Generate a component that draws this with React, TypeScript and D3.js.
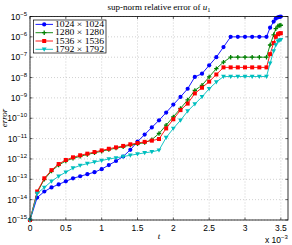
import React from "react";
import * as d3 from "d3";

// time in units of 1e-3
const times = [0, 0.1, 0.2, 0.3, 0.4, 0.5, 0.6, 0.7, 0.8, 0.9, 1.0, 1.1, 1.2, 1.3, 1.4, 1.5, 1.6, 1.7, 1.8, 1.9, 2.0, 2.1, 2.2, 2.3, 2.4, 2.5, 2.6, 2.7, 2.8, 2.9, 3.0, 3.1, 3.2, 3.3, 3.35, 3.4, 3.43, 3.46, 3.48, 3.5];

// log10 of the error
const err1024 = [-15, -13.9, -13.6, -13.4, -13.25, -13.1, -12.95, -12.85, -12.75, -12.65, -12.5, -12.3, -12.1, -11.88, -11.55, -11.15, -10.8, -10.45, -10.1, -9.72, -9.33, -8.95, -8.55, -7.97, -7.81, -7.4, -7.0, -6.5, -6.0, -6.0, -6.0, -6.0, -6.0, -6.0, -5.55, -5.25, -5.1, -5.04, -5.02, -5.0];
const err1280 = [-15, -13.65, -13.0, -12.6, -12.3, -12.1, -11.97, -11.87, -11.78, -11.7, -11.62, -11.54, -11.47, -11.4, -11.32, -11.26, -11.2, -11.05, -10.75, -10.34, -9.93, -9.52, -9.1, -8.63, -8.38, -7.97, -7.56, -7.24, -7.0, -7.0, -7.0, -7.0, -7.0, -7.0, -6.4, -5.9, -5.6, -5.47, -5.44, -5.43];
const err1536 = [-15, -13.6, -12.95, -12.55, -12.25, -12.05, -11.92, -11.82, -11.74, -11.66, -11.58, -11.5, -11.43, -11.36, -11.28, -11.22, -11.16, -11.1, -11.02, -10.5, -10.05, -9.6, -9.28, -8.78, -8.5, -8.2, -7.85, -7.5, -7.5, -7.5, -7.5, -7.5, -7.5, -7.5, -6.85, -6.3, -6.0, -5.87, -5.83, -5.82];
const err1792 = [-15, -13.7, -13.4, -13.1, -12.85, -12.65, -12.45, -12.32, -12.23, -12.15, -12.08, -12.0, -11.95, -11.88, -11.82, -11.76, -11.7, -11.65, -11.57, -10.95, -10.5, -10.1, -9.65, -9.3, -8.95, -8.55, -8.22, -7.95, -7.95, -7.95, -7.95, -7.95, -7.95, -7.95, -7.3, -6.7, -6.4, -6.22, -6.17, -6.15];

const seriesNames = ["1024", "1280", "1536", "1792"];
const xTicks = [0, 0.5, 1, 1.5, 2, 2.5, 3, 3.5];
const xTickLabels = ["0", "0.5", "1", "1.5", "2", "2.5", "3", "3.5"];
const yTickExps = [-15, -14, -13, -12, -11, -10, -9, -8, -7, -6, -5];

const colors = ["#0000ff", "#008000", "#ff0000", "#00bfbf"];
const markers = ["circle", "plus", "square", "tri"];

const W = 292, H = 245;
const L = 30, R = 288, T = 16.5, B = 220;

function Marker({ kind, x, y, color }: { kind: string; x: number; y: number; color: string }) {
  if (kind === "circle") return <circle cx={x} cy={y} r={2.1} fill={color} />;
  if (kind === "square") return <rect x={x - 2} y={y - 2} width={4} height={4} fill={color} />;
  if (kind === "plus")
    return (
      <path d={`M${x - 2.2},${y}H${x + 2.2}M${x},${y - 2.2}V${y + 2.2}`} stroke={color} strokeWidth={1.3} />
    );
  return <path d={`M${x - 2.4},${y - 1.8}L${x + 2.4},${y - 1.8}L${x},${y + 2.4}Z`} fill={color} />;
}

export default function App() {
  const x = d3.scaleLinear().domain([0, 3.6]).range([L, R]);
  const y = d3.scaleLog().domain([1e-15, 1e-5]).range([B, T]);
  const all = [err1024, err1280, err1536, err1792];
  const line = d3
    .line<[number, number]>()
    .x((d) => x(d[0]))
    .y((d) => y(Math.pow(10, d[1])));
  const sans = "Liberation Sans, Arial, sans-serif";
  const serif = "Liberation Serif, Times New Roman, serif";
  const legendY = [24.4, 32.7, 41, 49.3];
  return (
    <svg width={W} height={H} style={{ position: "absolute", left: 0, top: 0, background: "#fff" }}>
      <rect x={0} y={0} width={W} height={H} fill="#fff" />
      {/* grid */}
      {xTicks.map((t) => (
        <line key={"gx" + t} x1={x(t)} x2={x(t)} y1={T} y2={B} stroke="#b0b0b0" strokeWidth={0.6} strokeDasharray="1,2" />
      ))}
      {yTickExps.map((e) => (
        <line key={"gy" + e} x1={L} x2={R} y1={y(Math.pow(10, e))} y2={y(Math.pow(10, e))} stroke="#b0b0b0" strokeWidth={0.6} strokeDasharray="1,2" />
      ))}
      {/* ticks */}
      {xTicks.map((t) => (
        <g key={"tx" + t}>
          <line x1={x(t)} x2={x(t)} y1={B} y2={B - 2.5} stroke="#000" strokeWidth={0.6} />
          <line x1={x(t)} x2={x(t)} y1={T} y2={T + 2.5} stroke="#000" strokeWidth={0.6} />
        </g>
      ))}
      {yTickExps.map((e) => (
        <g key={"ty" + e}>
          <line x1={L} x2={L + 2.5} y1={y(Math.pow(10, e))} y2={y(Math.pow(10, e))} stroke="#000" strokeWidth={0.6} />
          <line x1={R} x2={R - 2.5} y1={y(Math.pow(10, e))} y2={y(Math.pow(10, e))} stroke="#000" strokeWidth={0.6} />
        </g>
      ))}
      {/* series */}
      {all.map((vals, i) => {
        const pts = times.map((t, k) => [t, vals[k]] as [number, number]);
        return (
          <g key={"s" + i}>
            <path d={line(pts) || ""} fill="none" stroke={colors[i]} strokeWidth={0.9} />
            {pts.map((p, k) => (
              <Marker key={k} kind={markers[i]} x={x(p[0])} y={y(Math.pow(10, p[1]))} color={colors[i]} />
            ))}
          </g>
        );
      })}
      {/* axes box */}
      <rect x={L} y={T} width={R - L} height={B - T} fill="none" stroke="#000" strokeWidth={0.8} />
      {/* x tick labels */}
      {xTicks.map((t, i) => (
        <text key={"xl" + t} x={x(t)} y={231} textAnchor="middle" fontFamily={sans} fontSize={8.5}>
          {xTickLabels[i]}
        </text>
      ))}
      {/* y tick labels */}
      {yTickExps.map((e) => (
        <text key={"yl" + e} x={27} y={y(Math.pow(10, e)) + 3} textAnchor="end" fontFamily={sans} fontSize={8.5}>
          10
          <tspan dy={-4} fontSize={6}>
            {"\u2212" + Math.abs(e)}
          </tspan>
        </text>
      ))}
      {/* multiplier */}
      <text x={265} y={243} fontFamily={sans} fontSize={8.5}>
        x 10
        <tspan dy={-4} fontSize={6}>{"\u22123"}</tspan>
      </text>
      {/* axis labels */}
      <text x={159} y={239} textAnchor="middle" fontFamily={serif} fontStyle="italic" fontSize={9}>
        t
      </text>
      <text transform="translate(7,118) rotate(-90)" textAnchor="middle" fontFamily={serif} fontStyle="italic" fontSize={9}>
        error
      </text>
      {/* title */}
      <text x={159} y={10} textAnchor="middle" fontFamily={serif} fontSize={9}>
        sup-norm relative error of <tspan fontStyle="italic">u</tspan>
        <tspan dy={2} fontSize={6.5}>1</tspan>
      </text>
      {/* legend */}
      <rect x={33.5} y={20} width={72.5} height={33} fill="#fff" stroke="#000" strokeWidth={0.7} />
      {seriesNames.map((n, i) => (
        <g key={"lg" + i}>
          <line x1={35.5} x2={53} y1={legendY[i]} y2={legendY[i]} stroke={colors[i]} strokeWidth={0.9} />
          <Marker kind={markers[i]} x={44.2} y={legendY[i]} color={colors[i]} />
          <text x={55} y={legendY[i] + 2.6} fontFamily={serif} fontSize={7.2} textLength={49} lengthAdjust="spacingAndGlyphs">
            {n + " \u00d7 " + n}
          </text>
        </g>
      ))}
    </svg>
  );
}
